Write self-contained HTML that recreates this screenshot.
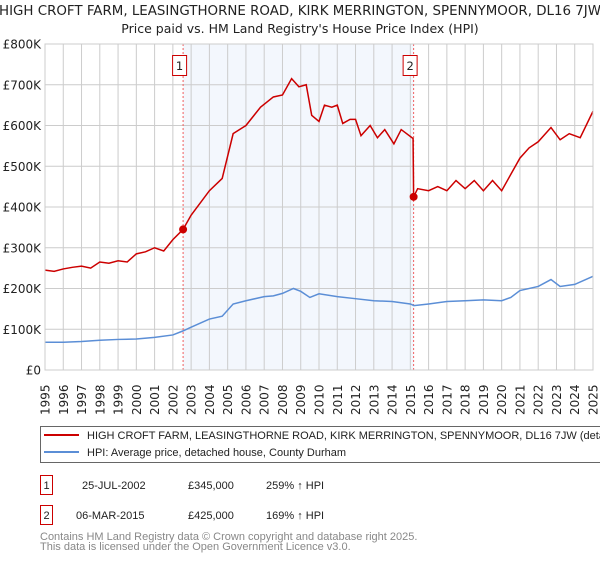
<!DOCTYPE html>
<html><head><meta charset="utf-8"><style>
body{margin:0;width:600px;height:560px;overflow:hidden;background:#fff;font-family:"DejaVu Sans","Liberation Sans",sans-serif;}
svg text{font-family:"DejaVu Sans","Liberation Sans",sans-serif;}
svg text.lib{font-family:"Liberation Sans","DejaVu Sans",sans-serif;}
</style></head><body>
<svg id="c" width="600" height="560" xmlns="http://www.w3.org/2000/svg">
<text x="300" y="15" text-anchor="middle" font-size="13.4" fill="#222">HIGH CROFT FARM, LEASINGTHORNE ROAD, KIRK MERRINGTON, SPENNYMOOR, DL16 7JW</text>
<text x="300" y="33" text-anchor="middle" font-size="12.5" fill="#222">Price paid vs. HM Land Registry's House Price Index (HPI)</text>
<g id="plot"></g>
<rect x="40.5" y="426.5" width="575" height="36" fill="#fff" stroke="#666"/>
<line x1="44" y1="435" x2="79" y2="435" stroke="#cc0000" stroke-width="2"/>
<text class="lib" x="87" y="439" font-size="11" fill="#222">HIGH CROFT FARM, LEASINGTHORNE ROAD, KIRK MERRINGTON, SPENNYMOOR, DL16 7JW (deta</text>
<line x1="44" y1="452" x2="79" y2="452" stroke="#5b8ed6" stroke-width="2"/>
<text class="lib" x="87" y="456" font-size="11" fill="#222">HPI: Average price, detached house, County Durham</text>
<g font-size="11" fill="#222">
<rect x="40.5" y="475.5" width="12" height="19" fill="none" stroke="#cc0000"/>
<text class="lib" x="46.5" y="489" text-anchor="middle">1</text>
<text class="lib" x="82" y="489">25-JUL-2002</text>
<text class="lib" x="188" y="489">£345,000</text>
<text class="lib" x="266" y="489">259% ↑ HPI</text>
<rect x="40.5" y="505.5" width="12" height="19" fill="none" stroke="#cc0000"/>
<text class="lib" x="46.5" y="519" text-anchor="middle">2</text>
<text class="lib" x="76" y="519">06-MAR-2015</text>
<text class="lib" x="188" y="519">£425,000</text>
<text class="lib" x="266" y="519">169% ↑ HPI</text>
</g>
<text class="lib" x="40" y="540" font-size="11" fill="#888">Contains HM Land Registry data © Crown copyright and database right 2025.</text>
<text class="lib" x="40" y="550" font-size="11" fill="#888">This data is licensed under the Open Government Licence v3.0.</text>
</svg>
<script>
const yTicks=[0,100,200,300,400,500,600,700,800];
const yTickLabels=["£0","£100K","£200K","£300K","£400K","£500K","£600K","£700K","£800K"];
const years=[1995,1996,1997,1998,1999,2000,2001,2002,2003,2004,2005,2006,2007,2008,2009,2010,2011,2012,2013,2014,2015,2016,2017,2018,2019,2020,2021,2022,2023,2024,2025];
const hpiX=[1995,1996,1997,1998,1999,2000,2001,2002,2002.56,2003,2004,2004.7,2005.3,2006,2007,2007.5,2008,2008.6,2009,2009.5,2010,2011,2012,2013,2014,2015,2015.2,2016,2017,2018,2019,2020,2020.5,2021,2022,2022.7,2023.2,2024,2025];
const hpiY=[68,68,70,73,75,76,80,86,96,105,125,132,162,170,180,182,188,200,193,178,187,180,175,170,168,162,158,162,168,170,172,170,178,195,205,222,205,210,230];
const ppX=[1995,1995.5,1996,1996.5,1997,1997.5,1998,1998.5,1999,1999.5,2000,2000.5,2001,2001.5,2002,2002.56,2003,2004,2004.7,2005.3,2006,2006.8,2007.5,2008,2008.5,2008.9,2009.3,2009.6,2010,2010.3,2010.7,2011,2011.3,2011.7,2012,2012.3,2012.8,2013.2,2013.6,2014.1,2014.5,2015.15,2015.18,2015.4,2016,2016.5,2017,2017.5,2018,2018.5,2019,2019.5,2020,2020.5,2021,2021.5,2022,2022.7,2023.2,2023.7,2024.3,2025];
const ppY=[245,242,248,252,255,250,265,262,268,265,285,290,300,292,320,345,380,440,470,580,600,645,670,675,715,695,700,625,610,650,645,650,605,615,615,575,600,570,590,555,590,568,425,445,440,450,440,465,445,465,440,465,440,480,520,545,560,595,565,580,570,635];
const sales=[{x:2002.56,v:345,n:"1"},{x:2015.18,v:425,n:"2"}];
const L=45,R=593,T=44,B=370;
const xs=y=>L+(y-1995)/30*(R-L);
const ys=v=>B-v/800*(B-T);
const g=document.getElementById('plot');
const NS="http://www.w3.org/2000/svg";
function mk(t,a,p){const e=document.createElementNS(NS,t);for(const k in a)e.setAttribute(k,a[k]);(p||g).appendChild(e);return e;}
let e=mk('rect',{x:xs(sales[0].x),y:T,width:xs(sales[1].x)-xs(sales[0].x),height:B-T,fill:'#eef3fc',opacity:0.7});


years.forEach(y=>{
 const l=mk('line',{x1:xs(y),x2:xs(y),y1:T,y2:B,stroke:'#ccc','stroke-width':1});
 
 
 const tx=xs(y)+4.5,ty=B+45;
 const t=mk('text',{x:tx,y:ty,transform:'rotate(-90 '+tx+' '+ty+')','font-size':12,fill:'#222'});t.textContent=y;
 
 
});
yTicks.forEach((v,i)=>{
 const l=mk('line',{x1:L,x2:R,y1:ys(v),y2:ys(v),stroke:'#ccc','stroke-width':1});
 
 
 const t=mk('text',{x:L-4,y:ys(v)+4.5,'text-anchor':'end','font-size':12,fill:'#222'});t.textContent=yTickLabels[i];
 
 
});
sales.forEach(s=>{
 const l=mk('line',{x1:xs(s.x),x2:xs(s.x),y1:T,y2:B,stroke:'#f06060','stroke-dasharray':'2,2'});
 
 
 const r=mk('rect',{x:xs(s.x)-10.5,y:55.5,width:14,height:20,fill:'#fff',stroke:'#cc0000'});
 
 
 const t=mk('text',{x:xs(s.x)-3.5,y:70,'text-anchor':'middle','font-size':11.5,fill:'#222'});t.textContent=s.n;
 
 
});
let p=mk('polyline',{points:hpiX.map((x,i)=>xs(x)+','+ys(hpiY[i])).join(' '),fill:'none',stroke:'#5b8ed6','stroke-width':1.5});


p=mk('polyline',{points:ppX.map((x,i)=>xs(x)+','+ys(ppY[i])).join(' '),fill:'none',stroke:'#cc0000','stroke-width':1.5});


sales.forEach(s=>{const c=mk('circle',{cx:xs(s.x),cy:ys(s.v),r:4,fill:'#cc0000'});
 
 });
e=mk('rect',{x:L,y:T,width:R-L,height:B-T,fill:'none',stroke:'#ccc'});


</script>
</body></html>
